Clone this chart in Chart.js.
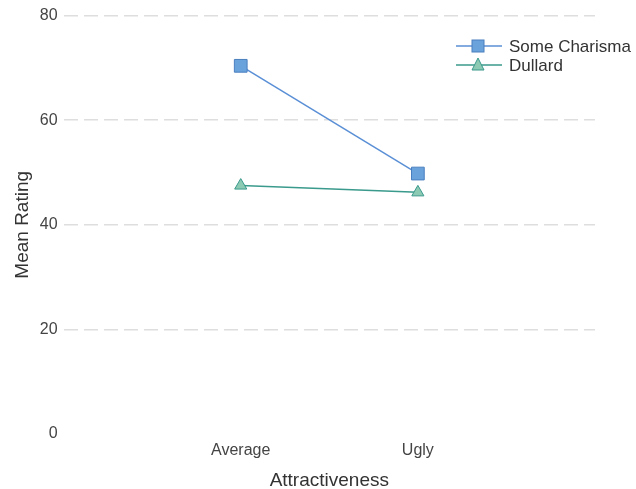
<!DOCTYPE html>
<html>
<head>
<meta charset="utf-8">
<script src="https://cdn.jsdelivr.net/npm/chart.js@4/dist/chart.umd.min.js"></script>
<style>
  html, body { margin: 0; padding: 0; background: #fff; }
  #wrap { width: 636px; height: 489px; position: relative; }
</style>
</head>
<body>
<div id="wrap"><canvas id="chart"></canvas></div>
<script>
var categories = ['', 'Average', 'Ugly', ''];
var charisma = [null, 70.4, 49.8, null];
var dullard = [null, 47.5, 46.2, null];
var seriesNames = ['Some Charisma', 'Dullard'];
var yTicks = [0, 20, 40, 60, 80];

var fontFam = '"Liberation Sans", Arial, sans-serif';

// legend drawn inside the plot, top right, like the original
var insideLegend = {
    id: 'insideLegend',
    afterDraw: function(chart) {
        var ctx = chart.ctx;
        var x = 456, y = 46;
        ctx.save();
        ctx.font = '17px ' + fontFam;
        ctx.textBaseline = 'middle';
        chart.data.datasets.forEach(function(ds, i) {
            var yy = y + i * 19;
            ctx.strokeStyle = ds.borderColor;
            ctx.lineWidth = 1.5;
            ctx.beginPath();
            ctx.moveTo(x, yy);
            ctx.lineTo(x + 46, yy);
            ctx.stroke();
            ctx.fillStyle = ds.pointBackgroundColor;
            ctx.strokeStyle = ds.pointBorderColor;
            ctx.lineWidth = 1;
            if (ds.pointStyle === 'rect') {
                ctx.fillRect(x + 16, yy - 6, 12, 12);
                ctx.strokeRect(x + 16, yy - 6, 12, 12);
            } else {
                ctx.beginPath();
                ctx.moveTo(x + 22, yy - 7);
                ctx.lineTo(x + 28, yy + 5);
                ctx.lineTo(x + 16, yy + 5);
                ctx.closePath();
                ctx.fill();
                ctx.stroke();
            }
            ctx.fillStyle = '#333';
            ctx.fillText(ds.label, x + 53, yy + 1);
        });
        ctx.restore();
    }
};

var config = {
    type: 'line',
    data: {
        labels: categories,
        datasets: [{
            label: seriesNames[0],
            data: charisma,
            borderColor: '#5a8fd6',
            borderWidth: 1.5,
            pointStyle: 'rect',
            pointRadius: 9,
            pointBackgroundColor: '#6aa3dc',
            pointBorderColor: '#4a7fbf',
            pointBorderWidth: 1,
            fill: false
        }, {
            label: seriesNames[1],
            data: dullard,
            borderColor: '#3a9a8c',
            borderWidth: 1.5,
            pointStyle: 'triangle',
            pointRadius: 7,
            pointBackgroundColor: '#8ccab4',
            pointBorderColor: '#3a9a8c',
            pointBorderWidth: 1,
            fill: false
        }]
    },
    options: {
        responsive: true,
        maintainAspectRatio: false,
        animation: false,
        layout: { padding: { top: 0, right: 41, bottom: -3, left: 11 } },
        plugins: {
            legend: { display: false },
            tooltip: { enabled: false }
        },
        scales: {
            x: {
                offset: false,
                grid: { display: false, drawTicks: false },
                border: { display: false },
                ticks: {
                    color: '#444',
                    font: { family: fontFam, size: 16 },
                    padding: 7,
                    maxRotation: 0
                },
                title: {
                    display: true,
                    text: 'Attractiveness',
                    color: '#333',
                    font: { family: fontFam, size: 19 },
                    padding: { top: 2, bottom: 0 }
                }
            },
            y: {
                min: 0,
                max: 80,
                afterBuildTicks: function(axis) {
                    axis.ticks = yTicks.map(function(v) { return { value: v }; });
                },
                grid: {
                    color: function(c) { return c.tick && c.tick.value === 0 ? 'rgba(0,0,0,0)' : '#dedede'; },
                    lineWidth: 1.5,
                    drawTicks: false
                },
                border: { display: false, dash: [14, 6] },
                ticks: {
                    color: '#444',
                    font: { family: fontFam, size: 16 },
                    padding: 6
                },
                title: {
                    display: true,
                    text: 'Mean Rating',
                    color: '#333',
                    font: { family: fontFam, size: 19 },
                    padding: { top: 0, bottom: 0 }
                }
            }
        }
    },
    plugins: [insideLegend]
};

var ctx = document.getElementById('chart').getContext('2d');
new Chart(ctx, config);
</script>
</body>
</html>
